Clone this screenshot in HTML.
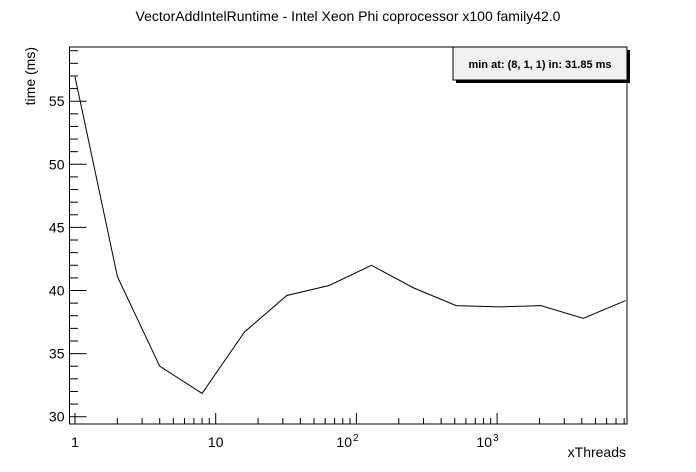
<!DOCTYPE html>
<html><head><meta charset="utf-8"><style>
body{margin:0;background:#fff}
svg{display:block;font-family:"Liberation Sans",Arial,sans-serif}
</style></head><body>
<svg width="696" height="472" viewBox="0 0 696 472">
<script>
const categories=[1,2,4,8,16,32,64,128,256,512,1024,2048,4096,8192];
const timeValues=[56.94,41.1,34.0,31.85,36.7,39.6,40.4,42.0,40.2,38.8,38.7,38.8,37.8,39.2];
const yTickLabels=[30,35,40,45,50,55];
</script>
<text x="348" y="21" text-anchor="middle" font-size="14">VectorAddIntelRuntime - Intel Xeon Phi coprocessor x100 family42.0</text>
<g id="axes"></g>
<rect x="69.5" y="47" width="557.5" height="377" fill="none" stroke="#000" stroke-width="1"/>
<polyline id="line" fill="none" stroke="#000" stroke-width="1"/>
<text x="626" y="457" text-anchor="end" font-size="14">xThreads</text>
<text transform="translate(35,47) rotate(-90)" text-anchor="end" font-size="14">time (ms)</text>
<text x="352" y="447" text-anchor="end" font-size="14">10</text>
<text x="353" y="441" font-size="10">2</text>
<text x="492" y="447" text-anchor="end" font-size="14">10</text>
<text x="493" y="441" font-size="10">3</text>
<g>
<rect x="456" y="50" width="174" height="33" fill="#000"/>
<rect x="453" y="47" width="174" height="33" fill="#f0f0f0" stroke="#000" stroke-width="1"/>
<text x="540" y="68" text-anchor="middle" font-size="11" font-weight="bold">min at: (8, 1, 1) in: 31.85 ms</text>
</g>
<script>
const NS="http://www.w3.org/2000/svg";
const L=69.5,R=627,T=47,B=424;
function xs(v){return 75+Math.log10(v)*140.7;}
function ys(v){return 416.7-(v-30)*12.62;}
const ax=document.getElementById('axes');
function line(x1,y1,x2,y2){const l=document.createElementNS(NS,'line');l.setAttribute('x1',x1);l.setAttribute('y1',y1);l.setAttribute('x2',x2);l.setAttribute('y2',y2);l.setAttribute('stroke','#000');


ax.appendChild(l);}
function txt(x,y,s,anchor,size){const t=document.createElementNS(NS,'text');t.setAttribute('x',x);t.setAttribute('y',y);t.setAttribute('text-anchor',anchor);t.setAttribute('font-size',size);t.textContent=s;


ax.appendChild(t);return t;}
for(let v=30;v<=59;v++){const y=ys(v);const major=v%5===0;line(L,y,L+(major?17:8.5),y);}
yTickLabels.forEach(v=>txt(L-5,ys(v)+5,v,'end',14));
for(let d=0;d<4;d++){for(let m=1;m<10;m++){const v=m*Math.pow(10,d);const x=xs(v);if(x>R)break;line(x,B,x,B-(m===1?11:6));}}
txt(xs(1),447,'1','middle',14);
txt(xs(10),447,'10','middle',14);
document.getElementById('line').setAttribute('points',categories.map((c,i)=>xs(c).toFixed(1)+','+ys(timeValues[i]).toFixed(1)).join(' '));
</script>
</svg>
</body></html>
